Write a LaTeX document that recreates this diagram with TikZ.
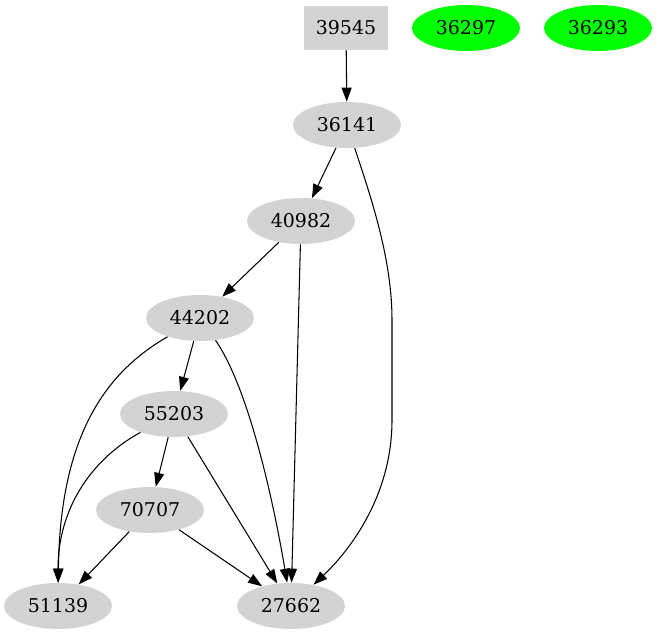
\documentclass[tikz,border=0pt]{standalone}
\usepackage{fontspec}
\setmainfont{DejaVu Serif}
\usetikzlibrary{arrows.meta,shapes.geometric}
\definecolor{gvgray}{HTML}{D3D3D3}
\definecolor{gvgreen}{HTML}{00FF00}

\begin{document}
\begin{tikzpicture}[
    x=0.02cm,y=-0.02cm,
    font=\fontsize{10.8pt}{12pt}\selectfont,
    >={Triangle[length=2.8mm,width=2mm]},
    job/.style={
        ellipse,
        fill=gvgray,
        minimum width=2.16cm,
        minimum height=0.92cm,
        inner sep=0pt
    },
    root/.style={
        rectangle,
        fill=gvgray,
        minimum width=1.68cm,
        minimum height=0.88cm,
        inner sep=0pt
    },
    lone/.style={
        job,
        fill=gvgreen
    },
    dep/.style={->,line width=0.6pt}
]
\useasboundingbox (0,0) rectangle (657,635);

% Top row
\node[root] (n39545) at (346,28) {39545};
\node[lone] (n36297) at (466,28) {36297};
\node[lone] (n36293) at (598,28) {36293};

% Chain
\node[job] (n36141) at (347,125) {36141};
\node[job] (n40982) at (301,221) {40982};
\node[job] (n44202) at (200,318) {44202};
\node[job] (n55203) at (174,414) {55203};
\node[job] (n70707) at (150,510) {70707};
\node[job] (n51139) at (58,606) {51139};
\node[job] (n27662) at (291,606) {27662};

% Straight edges
\draw[dep] (n39545) -- (n36141);
\draw[dep] (n36141) -- (n40982);
\draw[dep] (n40982) -- (n44202);
\draw[dep] (n40982) -- (n27662);
\draw[dep] (n44202) -- (n55203);
\draw[dep] (n55203) -- (n70707);
\draw[dep] (n55203) -- (n27662);
\draw[dep] (n70707) -- (n51139);
\draw[dep] (n70707) -- (n27662);

% Curved edges
\draw[dep] (n36141) .. controls (372,200) and (392,260) .. (392,320)
    -- (392,420) .. controls (392,500) and (345,555) .. (n27662);
\draw[dep] (n44202) .. controls (110,370) and (60,430) .. (n51139);
\draw[dep] (n44202) .. controls (250,390) and (275,510) .. (n27662);
\draw[dep] (n55203) .. controls (90,460) and (58,510) .. (n51139);

\end{tikzpicture}
\end{document}
